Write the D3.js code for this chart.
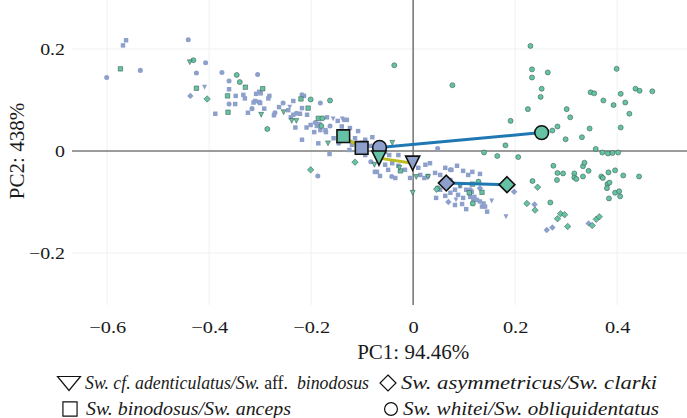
<!DOCTYPE html>
<html><head><meta charset="utf-8">
<script src="https://cdn.jsdelivr.net/npm/d3@7"></script>
<style>body{margin:0;background:#fff}svg{display:block}</style>
</head><body><svg id="c" width="687" height="418" style="font-family:'Liberation Serif','Times New Roman','DejaVu Serif',serif"></svg>
<script>
// ---- data (PC1, PC2) ----
const xTicks = [-0.6, -0.4, -0.2, 0, 0.2, 0.4];
const yTicks = [-0.2, 0, 0.2];
const xTitle = "PC1: 94.46%";
const yTitle = "PC2: 438%";

const triGreen = [[-0.438,0.174],[-0.298,0.071],[-0.254,0.076],[-0.238,0.059],[-0.229,0.059],[-0.167,0.015],[-0.001,-0.082],[0.006,-0.051],[0.029,-0.051],[-0.027,-0.033],[0.092,-0.067],[-0.041,0.016],[-0.076,-0.027]];
const triBlue = [[-0.409,0.125],[-0.242,0.086],[-0.157,0.063],[0.154,-0.098],[0.182,-0.129],[0.084,-0.096],[-0.139,0.063]];
const sqGreen = [[-0.574,0.161],[-0.425,0.123],[-0.364,0.108],[-0.363,0.076],[-0.329,0.125],[-0.295,0.122],[-0.220,0.102],[-0.206,0.084],[-0.186,0.064],[-0.025,-0.039],[0.135,-0.081],[0.110,-0.082],[0.116,-0.065]];
const sqBlue = [[-0.569,0.207],[-0.563,0.217],[-0.388,0.073],[-0.361,0.121],[-0.348,0.108],[-0.333,0.110],[-0.330,0.103],[-0.308,0.112],[-0.302,0.116],[-0.310,0.098],[-0.302,0.096],[-0.299,0.113],[-0.282,0.108],[-0.284,0.103],[-0.313,0.095],[-0.300,0.094],[-0.292,0.083],[-0.273,0.070],[-0.235,0.098],[-0.240,0.066],[-0.235,0.071],[-0.222,0.073],[-0.214,0.108],[-0.218,0.084],[-0.231,0.046],[-0.218,0.022],[-0.209,0.046],[-0.201,0.051],[-0.189,0.049],[-0.184,0.053],[-0.194,0.037],[-0.182,0.041],[-0.171,0.037],[-0.172,0.041],[-0.186,0.015],[-0.164,-0.006],[-0.156,0.025],[-0.148,0.059],[-0.140,0.048],[-0.135,0.061],[-0.130,0.061],[-0.125,0.002],[-0.169,0.066],[-0.208,0.071],[-0.245,0.080],[-0.263,0.086],[-0.324,0.075],[-0.349,0.092],[-0.124,0.045],[-0.114,0.025],[-0.120,0.012],[-0.108,0.039],[-0.094,0.022],[-0.084,0.010],[-0.080,0.027],[-0.094,-0.008],[-0.075,-0.041],[-0.071,-0.041],[-0.055,-0.002],[-0.047,-0.008],[-0.029,-0.008],[-0.041,-0.024],[-0.055,-0.027],[-0.029,-0.029],[-0.016,-0.037],[0.014,-0.047],[0.022,-0.053],[0.029,-0.049],[0.043,-0.043],[0.053,-0.047],[0.063,-0.033],[0.075,-0.037],[0.086,-0.029],[0.098,-0.039],[0.108,-0.047],[0.116,-0.041],[0.073,-0.057],[0.082,-0.076],[0.088,-0.086],[0.098,-0.092],[0.092,-0.069],[0.104,-0.076],[0.112,-0.090],[0.118,-0.096],[0.125,-0.096],[0.131,-0.099],[0.138,-0.103],[0.141,-0.109],[0.145,-0.119],[0.135,-0.109],[0.117,-0.103],[0.120,-0.090],[0.115,-0.080],[0.053,-0.076],[0.063,-0.088],[0.073,-0.082],[0.045,-0.092],[0.096,-0.104],[0.082,-0.106],[0.104,-0.114],[0.131,-0.045],[0.024,-0.027],[0.010,-0.033],[-0.006,-0.053],[0.033,-0.024],[-0.035,-0.053],[-0.065,-0.049],[-0.049,-0.037],[-0.100,0.016],[-0.108,0.008]];
const diaGreen = [[-0.404,0.102],[-0.201,-0.037],[-0.114,-0.022],[0.244,-0.071],[0.223,-0.103],[0.239,-0.116],[0.289,-0.123],[0.297,-0.125],[0.283,-0.133],[0.303,-0.148],[0.351,-0.146],[0.359,-0.134],[0.365,-0.129],[0.046,-0.075]];
const diaBlue = [[-0.437,0.108],[0.198,-0.080],[0.238,-0.105],[0.262,-0.155],[0.273,-0.150],[0.344,-0.142],[0.131,-0.073],[0.069,-0.100]];
const cirGreen = [[-0.431,0.178],[-0.346,0.149],[-0.340,0.135],[-0.286,0.043],[-0.201,0.101],[-0.163,0.099],[-0.178,0.064],[-0.180,0.049],[-0.037,0.168],[0.077,0.129],[0.048,-0.073],[0.128,-0.060],[0.117,-0.103],[0.139,-0.003],[0.165,-0.010],[0.181,0.011],[0.191,0.059],[0.206,-0.012],[0.230,0.206],[0.233,0.160],[0.233,0.144],[0.264,0.154],[0.252,0.122],[0.250,0.106],[0.225,0.082],[0.301,0.082],[0.308,0.066],[0.283,0.048],[0.273,0.040],[0.299,0.023],[0.331,0.027],[0.346,0.044],[0.348,0.115],[0.355,0.113],[0.373,0.099],[0.393,0.090],[0.399,0.161],[0.407,0.112],[0.416,0.095],[0.424,0.073],[0.407,0.046],[0.436,0.122],[0.444,0.118],[0.469,0.117],[0.358,0.004],[0.371,-0.003],[0.382,-0.005],[0.391,-0.004],[0.402,-0.003],[0.275,-0.029],[0.283,-0.043],[0.294,-0.044],[0.282,-0.057],[0.234,-0.059],[0.316,-0.044],[0.316,-0.052],[0.320,-0.055],[0.333,-0.030],[0.336,-0.023],[0.344,-0.039],[0.333,-0.050],[0.369,-0.050],[0.372,-0.053],[0.383,-0.042],[0.396,-0.038],[0.412,-0.048],[0.443,-0.050],[0.381,-0.065],[0.385,-0.062],[0.380,-0.073],[0.396,-0.082],[0.404,-0.079],[0.406,-0.089],[0.384,-0.093],[0.269,-0.101]];
const cirBlue = [[-0.601,0.144],[-0.535,0.158],[-0.441,0.218],[-0.425,0.153],[-0.407,0.173],[-0.375,0.154],[-0.361,0.137],[-0.361,0.092],[-0.305,0.150],[-0.316,0.083],[-0.255,0.094],[-0.218,0.110],[-0.182,0.094],[-0.187,-0.049],[0.048,0.005],[-0.146,0.015],[-0.229,0.074],[-0.192,0.056],[-0.083,-0.021],[-0.042,-0.050],[0.073,-0.037],[0.112,-0.076],[-0.163,0.049],[-0.271,0.075]];

// group means: [green, blue]
const meanTri = [[-0.067,-0.014],[-0.001,-0.024]];
const meanSq  = [[-0.137,0.029],[-0.101,0.006]];
const meanDia = [[0.184,-0.066],[0.065,-0.063]];
const meanCir = [[0.252,0.036],[-0.066,0.007]];

const legendLabels = [
  [{t:"Sw. cf. adenticulatus/Sw. ",i:true},{t:"aff. ",i:false},{t:" binodosus",i:true}],
  [{t:"Sw. asymmetricus/Sw. clarki",i:true}],
  [{t:"Sw. binodosus/Sw. anceps",i:true}],
  [{t:"Sw. whitei/Sw. obliquidentatus",i:true}]
];

// ---- style ----
const FONT = "'Liberation Serif','Times New Roman','DejaVu Serif',serif";
const GREEN = "#66c2a5", BLUE = "#8da0cb";
const LINEBLUE = "#1f78b4", LINEYEL = "#bcbd22";
const TXT = "#1a1a1a";

const svg = d3.select("#c");
const x = d3.scaleLinear().domain([-0.669, 0.537]).range([72, 687]);
const y = d3.scaleLinear().domain([-0.302, 0.296]).range([305, 0]);

const triDownShape = (w,h) => ({draw(ctx){ ctx.moveTo(-w/2,-h/2); ctx.lineTo(w/2,-h/2); ctx.lineTo(0,h/2); ctx.closePath(); }});
const triDown = {draw(ctx, size){ const w = Math.sqrt(size)*1.15, h = w; ctx.moveTo(-w/2,-h/2); ctx.lineTo(w/2,-h/2); ctx.lineTo(0,h/2); ctx.closePath(); }};
const rotSquare = {draw(ctx, size){ const d = Math.sqrt(size)*0.72; ctx.moveTo(0,-d); ctx.lineTo(d,0); ctx.lineTo(0,d); ctx.lineTo(-d,0); ctx.closePath(); }};
const types = {tri: triDown, sq: d3.symbolSquare, dia: rotSquare, cir: d3.symbolCircle};

// grid
const g = svg.append("g");
g.selectAll(".gx").data(xTicks.filter(d=>d!==0)).join("line")
  .attr("x1", d=>x(d)).attr("x2", d=>x(d)).attr("y1", 0).attr("y2", 305)
  .attr("stroke", "#eef0f2").attr("stroke-width", 1);
g.selectAll(".gy").data(yTicks.filter(d=>d!==0)).join("line")
  .attr("x1", 72).attr("x2", 687).attr("y1", d=>y(d)).attr("y2", d=>y(d))
  .attr("stroke", "#eef0f2").attr("stroke-width", 1);
g.append("line").attr("x1",72).attr("x2",687).attr("y1",y(0)).attr("y2",y(0)).attr("stroke","#7a7a7a").attr("stroke-width",1.6);
g.append("line").attr("x1",x(0)).attr("x2",x(0)).attr("y1",0).attr("y2",305).attr("stroke","#7a7a7a").attr("stroke-width",1.6);

// axes (labels only)
const fmt = d => d === 0 ? "0" : d3.format(".1f")(d);
const ax = svg.append("g").attr("transform","translate(0,317.6)")
  .call(d3.axisBottom(x).tickValues(xTicks).tickSize(0).tickFormat(fmt));
ax.select(".domain").remove();
ax.attr("font-family", FONT).attr("font-size", 17);
ax.selectAll("text").attr("fill",TXT).attr("transform","scale(1.2,1)");
const ay = svg.append("g").attr("transform","translate(65,0)")
  .call(d3.axisLeft(y).tickValues(yTicks).tickSize(0).tickFormat(fmt));
ay.select(".domain").remove();
ay.attr("font-family", FONT).attr("font-size", 17);
ay.selectAll("text").attr("fill",TXT).attr("x",0).attr("transform","scale(1.17,1)");

svg.append("text").attr("x", x(0)).attr("y", 359).attr("text-anchor","middle").attr("font-family",FONT).attr("font-size",21).attr("fill",TXT).text(xTitle);
svg.append("text").attr("transform","translate(24,151) rotate(-90)").attr("text-anchor","middle").attr("font-family",FONT).attr("font-size",21).attr("fill",TXT).text(yTitle);

// points
function pts(data, type, fill, stroke, size){
  svg.append("g").selectAll("path").data(data).join("path")
    .attr("transform", d=>`translate(${x(d[0])},${y(d[1])})`)
    .attr("d", d3.symbol().type(types[type]).size(size))
    .attr("fill", fill).attr("stroke", stroke).attr("stroke-width", stroke==="none"?0:0.5);
}
pts(sqBlue, "sq", BLUE, "none", 20);
pts(cirBlue, "cir", BLUE, "none", 20);
pts(triBlue, "tri", BLUE, "none", 18);
pts(diaBlue, "dia", BLUE, "none", 20);
pts(sqGreen, "sq", GREEN, "#2f4f45", 20);
pts(cirGreen, "cir", GREEN, "#2f4f45", 20);
pts(triGreen, "tri", GREEN, "#2f4f45", 18);
pts(diaGreen, "dia", GREEN, "#2f4f45", 20);

// mean connecting lines
const lines = [[meanCir, LINEBLUE],[meanDia, LINEBLUE],[meanTri, LINEYEL],[meanSq, LINEYEL]];
lines.forEach(([m,c])=>{
  svg.append("line").attr("x1",x(m[0][0])).attr("y1",y(m[0][1])).attr("x2",x(m[1][0])).attr("y2",y(m[1][1]))
    .attr("stroke", c).attr("stroke-width", 3);
});
function mean(m, type, size){
  [[m[0],GREEN],[m[1],BLUE]].forEach(([p,c])=>{
    svg.append("path").attr("transform",`translate(${x(p[0])},${y(p[1])})`)
      .attr("d", d3.symbol().type(types[type]).size(size)).attr("fill",c).attr("stroke","#111").attr("stroke-width",1.6);
  });
}
mean(meanSq, "sq", 160);
mean(meanCir, "cir", 150);
mean(meanDia, "dia", 120);
mean(meanTri, "tri", 150);

// legend
const leg = [
  {shape: triDownShape(23,14), x:69, y:383.5, tx:85, lab:legendLabels[0], fs:17.8, len:null},
  {shape: {draw(c){c.moveTo(0,-8);c.lineTo(8,0);c.lineTo(0,8);c.lineTo(-8,0);c.closePath();}}, x:388, y:383, tx:401, lab:legendLabels[1], fs:19.5, len:256},
  {shape: d3.symbolSquare, size:200, x:70, y:409, tx:86, lab:legendLabels[2], fs:19.5, len:205},
  {shape: d3.symbolCircle, size:130, x:391, y:409, tx:403, lab:legendLabels[3], fs:19.5, len:256}
];
leg.forEach((l,i)=>{
  svg.append("path").attr("transform",`translate(${l.x},${l.y})`)
    .attr("d", d3.symbol().type(l.shape).size(l.size||64)).attr("fill","none").attr("stroke","#111").attr("stroke-width",1.2);
  const t = svg.append("text").attr("x", l.tx).attr("y", i<2 ? 389 : 415).attr("font-family",FONT).attr("font-size",l.fs).attr("fill",TXT)
    .attr("xml:space","preserve");
  if (l.lab.length === 1) {
    t.attr("font-style","italic").text(l.lab[0].t);
  } else {
    l.lab.forEach(s=> t.append("tspan").attr("font-style", s.i?"italic":"normal").text(s.t));
  }
  if (l.len) t.attr("textLength", l.len).attr("lengthAdjust","spacingAndGlyphs");
});
</script></body></html>
